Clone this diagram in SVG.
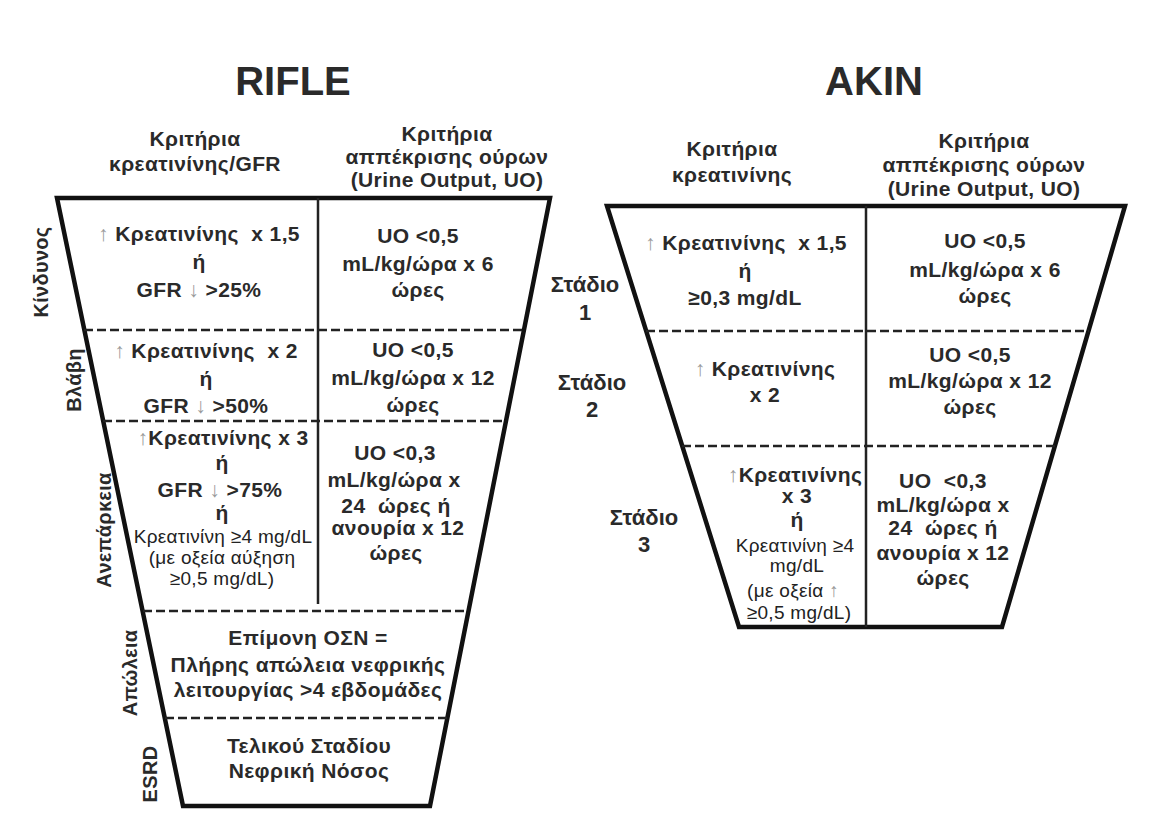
<svg xmlns="http://www.w3.org/2000/svg" width="1155" height="825" viewBox="0 0 1155 825">
<style>
text{font-family:"Liberation Sans",Arial,sans-serif;fill:#2a2a2a;text-anchor:middle}
.title{font-size:40px;font-weight:bold}
.hd{font-size:21px;font-weight:bold;letter-spacing:0.4px}
.c{font-size:21px;font-weight:bold;letter-spacing:0.4px}
.s{font-size:19px;font-weight:normal;letter-spacing:0.3px;fill:#222}
.lbl{font-size:20px;font-weight:bold;letter-spacing:0.3px}
.stg{font-size:22px;font-weight:bold}
.ar{fill:#9a9a9a;font-weight:normal}
.frame{fill:none;stroke:#111;stroke-width:4.5;stroke-linejoin:miter}
.vdiv{stroke:#222;stroke-width:2.5}
.dash{stroke:#222;stroke-width:2.5;stroke-dasharray:9 4}
</style>
<rect width="1155" height="825" fill="#fff"/>

<g id="rifle">
  <text id="rifle-title" class="title" x="293" y="95">RIFLE</text>
  <g id="rifle-header-creat">
    <text class="hd" x="195" y="146">Κριτήρια</text>
    <text class="hd" x="195" y="171">κρεατινίνης/GFR</text>
  </g>
  <g id="rifle-header-uo">
    <text class="hd" x="447" y="141">Κριτήρια</text>
    <text class="hd" x="447" y="164">αππέκρισης ούρων</text>
    <text class="hd" x="447" y="187">(Urine Output, UO)</text>
  </g>
  <polygon id="rifle-frame" class="frame" points="57,198 550,198 430,806 183,806"/>
  <g id="rifle-dividers">
    <line class="vdiv" x1="318" y1="198" x2="318" y2="604"/>
    <line class="dash" x1="84" y1="330" x2="524" y2="330"/>
    <line class="dash" x1="103" y1="421" x2="506" y2="421"/>
    <line class="dash" x1="143" y1="611" x2="468" y2="611"/>
    <line class="dash" x1="165" y1="718" x2="447" y2="718"/>
  </g>
  <g id="rifle-risk">
    <text class="lbl" transform="translate(41,272) rotate(-90)" dy=".35em">Κίνδυνος</text>
    <text class="c" x="199" y="241" xml:space="preserve"><tspan class="ar">↑</tspan> Κρεατινίνης  x 1,5</text>
    <text class="c" x="199" y="269">ή</text>
    <text class="c" x="199" y="297">GFR <tspan class="ar">↓</tspan> &gt;25%</text>
    <text class="c" x="418" y="243">UO &lt;0,5</text>
    <text class="c" x="418" y="271">mL/kg/ώρα x 6</text>
    <text class="c" x="418" y="297">ώρες</text>
  </g>
  <g id="rifle-injury">
    <text class="lbl" transform="translate(74,380) rotate(-90)" dy=".35em">Βλάβη</text>
    <text class="c" x="206" y="358" xml:space="preserve"><tspan class="ar">↑</tspan> Κρεατινίνης  x 2</text>
    <text class="c" x="206" y="386">ή</text>
    <text class="c" x="206" y="413">GFR <tspan class="ar">↓</tspan> &gt;50%</text>
    <text class="c" x="413" y="357">UO &lt;0,5</text>
    <text class="c" x="413" y="385">mL/kg/ώρα x 12</text>
    <text class="c" x="413" y="412">ώρες</text>
  </g>
  <g id="rifle-failure">
    <text class="lbl" transform="translate(104,530) rotate(-90)" dy=".35em">Ανεπάρκεια</text>
    <text class="c" x="223" y="445"><tspan class="ar">↑</tspan>Κρεατινίνης x 3</text>
    <text class="c" x="222" y="470">ή</text>
    <text class="c" x="220" y="497">GFR <tspan class="ar">↓</tspan> &gt;75%</text>
    <text class="c" x="222" y="520">ή</text>
    <text class="s" x="223" y="543">Κρεατινίνη ≥4 mg/dL</text>
    <text class="s" x="222" y="564">(με οξεία αύξηση</text>
    <text class="s" x="222" y="585">≥0,5 mg/dL)</text>
    <text class="c" x="395" y="460">UO &lt;0,3</text>
    <text class="c" x="394" y="487">mL/kg/ώρα x</text>
    <text class="c" x="396" y="513" xml:space="preserve">24  ώρες ή</text>
    <text class="c" x="398" y="535">ανουρία x 12</text>
    <text class="c" x="396" y="560">ώρες</text>
  </g>
  <g id="rifle-loss">
    <text class="lbl" transform="translate(130,673) rotate(-90)" dy=".35em">Απώλεια</text>
    <text class="c" x="308" y="645">Επίμονη ΟΣΝ =</text>
    <text class="c" x="308" y="672">Πλήρης απώλεια νεφρικής</text>
    <text class="c" x="308" y="697">λειτουργίας &gt;4 εβδομάδες</text>
  </g>
  <g id="rifle-esrd">
    <text class="lbl" transform="translate(150,774) rotate(-90)" dy=".35em">ESRD</text>
    <text class="c" x="309" y="753">Τελικού Σταδίου</text>
    <text class="c" x="309" y="778">Νεφρική Νόσος</text>
  </g>
</g>

<g id="akin">
  <text id="akin-title" class="title" x="874" y="95">AKIN</text>
  <g id="akin-header-creat">
    <text class="hd" x="732" y="156">Κριτήρια</text>
    <text class="hd" x="732" y="182">κρεατινίνης</text>
  </g>
  <g id="akin-header-uo">
    <text class="hd" x="984" y="148">Κριτήρια</text>
    <text class="hd" x="984" y="172">αππέκρισης ούρων</text>
    <text class="hd" x="984" y="196">(Urine Output, UO)</text>
  </g>
  <polygon id="akin-frame" class="frame" points="607,206 1125,206 1002,627 739,627"/>
  <g id="akin-dividers">
    <line class="vdiv" x1="866" y1="206" x2="866" y2="627"/>
    <line class="dash" x1="646" y1="331" x2="1089" y2="331"/>
    <line class="dash" x1="682" y1="446" x2="1055" y2="446"/>
  </g>
  <g id="akin-stage1">
    <text class="stg" x="585" y="292">Στάδιο</text>
    <text class="stg" x="585" y="320">1</text>
    <text class="c" x="746" y="250" xml:space="preserve"><tspan class="ar">↑</tspan> Κρεατινίνης  x 1,5</text>
    <text class="c" x="745" y="278">ή</text>
    <text class="c" x="745" y="305">≥0,3 mg/dL</text>
    <text class="c" x="985" y="248">UO &lt;0,5</text>
    <text class="c" x="985" y="277">mL/kg/ώρα x 6</text>
    <text class="c" x="985" y="303">ώρες</text>
  </g>
  <g id="akin-stage2">
    <text class="stg" x="592" y="390">Στάδιο</text>
    <text class="stg" x="592" y="417">2</text>
    <text class="c" x="765" y="376"><tspan class="ar">↑</tspan> Κρεατινίνης</text>
    <text class="c" x="765" y="402">x 2</text>
    <text class="c" x="970" y="362">UO &lt;0,5</text>
    <text class="c" x="970" y="388">mL/kg/ώρα x 12</text>
    <text class="c" x="970" y="414">ώρες</text>
  </g>
  <g id="akin-stage3">
    <text class="stg" x="644" y="525">Στάδιο</text>
    <text class="stg" x="644" y="552">3</text>
    <text class="c" x="795" y="482"><tspan class="ar">↑</tspan>Κρεατινίνης</text>
    <text class="c" x="797" y="503">x 3</text>
    <text class="c" x="797" y="527">ή</text>
    <text class="s" x="795" y="552">Κρεατινίνη ≥4</text>
    <text class="s" x="797" y="572">mg/dL</text>
    <text class="s" x="793" y="597">(με οξεία <tspan class="ar">↑</tspan></text>
    <text class="s" x="799" y="619">≥0,5 mg/dL)</text>
    <text class="c" x="943" y="488" xml:space="preserve">UO  &lt;0,3</text>
    <text class="c" x="943" y="512">mL/kg/ώρα x</text>
    <text class="c" x="943" y="535" xml:space="preserve">24  ώρες ή</text>
    <text class="c" x="943" y="560">ανουρία x 12</text>
    <text class="c" x="943" y="585">ώρες</text>
  </g>
</g>

<g id="connectors"/>
</svg>
